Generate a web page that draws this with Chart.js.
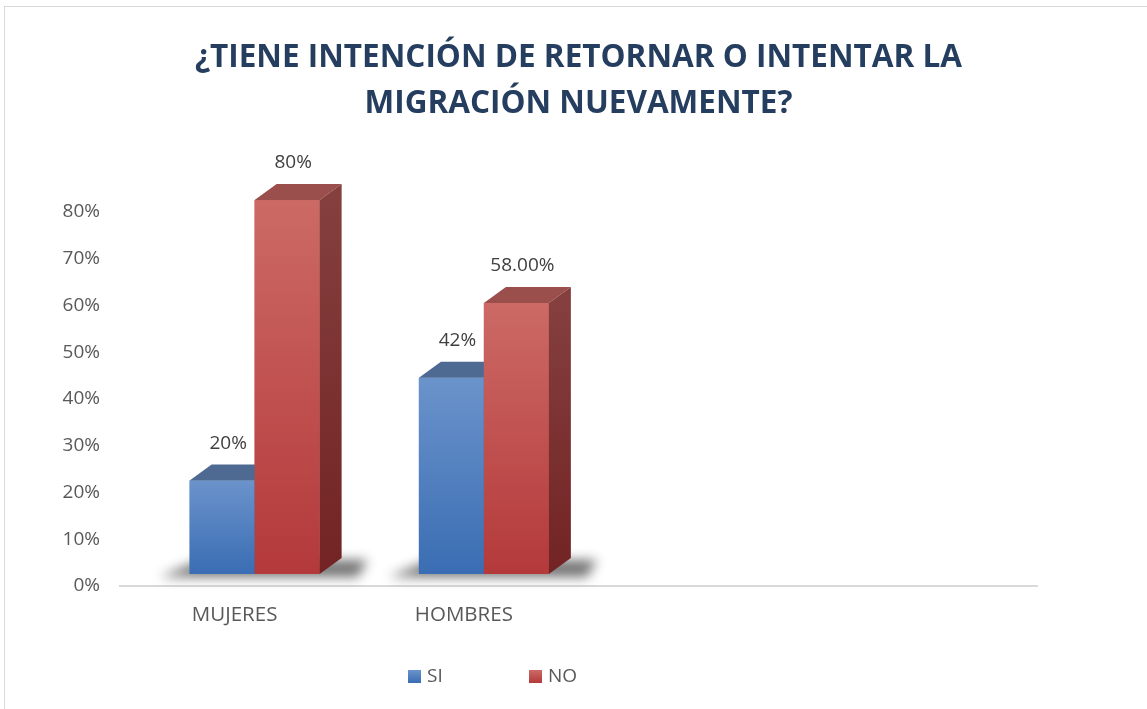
<!DOCTYPE html>
<html>
<head>
<meta charset="utf-8">
<script src="https://cdn.jsdelivr.net/npm/chart.js@4.4.0/dist/chart.umd.min.js"></script>
<style>
    body { margin: 0; background: #fff; overflow: hidden; }
    #marco { position: absolute; left: 4px; top: 6px; width: 1160px; height: 720px; border: 1.5px solid #D9D9D9; }
    #grafico { position: absolute; left: 0; top: 0; }
    .leyenda { position: absolute; top: 662px; font-family: "Open Sans", sans-serif; font-size: 19px; color: #595959; }
    .leyenda span { display: inline-block; width: 13px; height: 13px; margin-right: 6px; vertical-align: -1px; }
</style>
</head>
<body>
<div id="marco"></div>
<canvas id="grafico" width="1147" height="709"></canvas>
<div class="leyenda" style="left:408px"><span style="background:linear-gradient(#6B93CB,#3A6DB3)"></span>SI</div>
<div class="leyenda" style="left:529px"><span style="background:linear-gradient(#CC6A66,#B4393A)"></span>NO</div>
<script>
const categorias = ['MUJERES', 'HOMBRES', '', ''];
const valoresSi = [20, 42];
const valoresNo = [80, 58];
const etiquetasSi = ['20%', '42%'];
const etiquetasNo = ['80%', '58.00%'];
const ticksY = [0, 10, 20, 30, 40, 50, 60, 70, 80];

// profundidad y desplazamiento del efecto 3D
const DX = 22, DY = -16, SHIFT_X = 20, SHIFT_Y = -12;

const estilos = [
    { claro: '#6B93CB', oscuro: '#3A6DB3', tapa: '#4F6A92', lado1: '#3A5C8E', lado2: '#2C4C7C' },
    { claro: '#CC6A66', oscuro: '#B4393A', tapa: '#9B4F4C', lado1: '#843F3E', lado2: '#732324' }
];
const etiquetas = [etiquetasSi, etiquetasNo];

const barras3d = {
    id: 'barras3d',
    beforeDatasetsDraw(chart) {
        const ctx = chart.ctx;
        ctx.save();
        ctx.translate(SHIFT_X, SHIFT_Y);
        const m0 = chart.getDatasetMeta(0);
        const m1 = chart.getDatasetMeta(1);
        m0.data.forEach((el, i) => {
            const el2 = m1.data[i];
            if (!el2 || valoresSi[i] === undefined) return;
            const xl = el.x - el.width / 2;
            const xr = el2.x + el2.width / 2;
            const b = el.base;
            ctx.save();
            ctx.filter = 'blur(6px)';
            ctx.fillStyle = 'rgba(0,0,0,0.55)';
            ctx.beginPath();
            ctx.moveTo(xl - 30, b + 3);
            ctx.lineTo(xr + 38, b + 3);
            ctx.lineTo(xr + DX + 26, b + DY + 2);
            ctx.lineTo(xl + DX - 10, b + DY + 2);
            ctx.closePath();
            ctx.fill();
            ctx.restore();
        });
    },
    afterDatasetsDraw(chart) {
        const ctx = chart.ctx;
        const n = chart.data.datasets.length;
        categorias.forEach((c, i) => {
            for (let d = 0; d < n; d++) {
                const el = chart.getDatasetMeta(d).data[i];
                if (!el || chart.data.datasets[d].data[i] === undefined) continue;
                const e = estilos[d];
                const l = el.x - el.width / 2, r = el.x + el.width / 2;
                const y = el.y, b = el.base;

                let g = ctx.createLinearGradient(0, y, 0, b);
                g.addColorStop(0, e.claro);
                g.addColorStop(1, e.oscuro);
                ctx.fillStyle = g;
                ctx.fillRect(l, y, r - l, b - y);

                ctx.fillStyle = e.tapa;
                ctx.beginPath();
                ctx.moveTo(l, y);
                ctx.lineTo(l + DX, y + DY);
                ctx.lineTo(r + DX, y + DY);
                ctx.lineTo(r, y);
                ctx.closePath();
                ctx.fill();

                g = ctx.createLinearGradient(0, y, 0, b);
                g.addColorStop(0, e.lado1);
                g.addColorStop(1, e.lado2);
                ctx.fillStyle = g;
                ctx.beginPath();
                ctx.moveTo(r, y);
                ctx.lineTo(r + DX, y + DY);
                ctx.lineTo(r + DX, b + DY);
                ctx.lineTo(r, b);
                ctx.closePath();
                ctx.fill();
            }
        });
        ctx.restore();

        // etiquetas de datos
        ctx.save();
        ctx.font = '19px "Open Sans", sans-serif';
        ctx.fillStyle = '#404040';
        ctx.textAlign = 'center';
        ctx.textBaseline = 'middle';
        for (let d = 0; d < n; d++) {
            chart.getDatasetMeta(d).data.forEach((el, i) => {
                if (etiquetas[d][i] === undefined) return;
                ctx.fillText(etiquetas[d][i], el.x + SHIFT_X + 6, el.y + SHIFT_Y - 37);
            });
        }
        ctx.restore();
    }
};

new Chart(document.getElementById('grafico'), {
    type: 'bar',
    data: {
        labels: categorias,
        datasets: [
            { label: 'SI', data: valoresSi, backgroundColor: '#4A7EBB', borderWidth: 0, clip: false },
            { label: 'NO', data: valoresNo, backgroundColor: '#C0504D', borderWidth: 0, clip: false }
        ]
    },
    options: {
        responsive: false,
        animation: false,
        events: [],
        layout: { padding: { left: 0, right: 110, top: 0, bottom: 0 } },
        datasets: { bar: { categoryPercentage: 0.567, barPercentage: 1 } },
        plugins: {
            legend: { display: false },
            tooltip: { enabled: false },
            title: {
                display: true,
                fullSize: false,
                text: ['¿TIENE INTENCIÓN DE RETORNAR O INTENTAR LA', 'MIGRACIÓN NUEVAMENTE?'],
                color: '#253E5F',
                font: { family: '"Open Sans", sans-serif', size: 31.5, weight: 'bold', lineHeight: 1.43 },
                padding: { top: 36, bottom: 86 }
            }
        },
        scales: {
            x: {
                grid: { display: false, drawTicks: false },
                border: { display: true, color: '#D9D9D9', width: 2 },
                ticks: { color: '#595959', font: { family: '"Open Sans", sans-serif', size: 20.5 }, padding: 17, maxRotation: 0 },
                afterFit: s => { s.height = 123; }
            },
            y: {
                min: 0,
                max: 80,
                afterBuildTicks: s => { s.ticks = ticksY.map(v => ({ value: v })); },
                grid: { display: false, drawTicks: false },
                border: { display: false },
                ticks: { color: '#595959', font: { family: '"Open Sans", sans-serif', size: 19 }, padding: 20, callback: v => v + '%' },
                afterFit: s => { s.width = 120; }
            }
        }
    },
    plugins: [barras3d]
});
</script>
</body>
</html>
